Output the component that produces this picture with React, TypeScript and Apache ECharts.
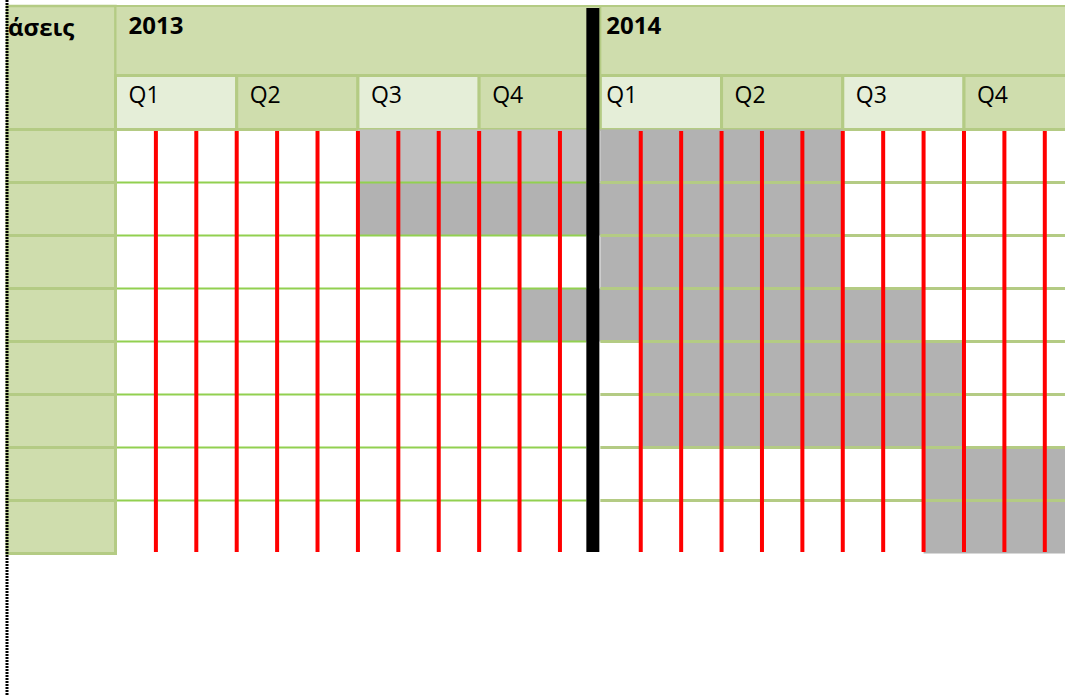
import React, { useEffect, useRef } from "react";
import * as echarts from "echarts";

// ---- data ----
const phaseTitle = "άσεις";
const years = ["2013", "2014"];
const yearStart = [0, 12];
const yearEnd = [12, 24];
const quarters = ["Q1", "Q2", "Q3", "Q4", "Q1", "Q2", "Q3", "Q4"];
const quarterStart = [0, 3, 6, 9, 12, 15, 18, 21];
const quarterEnd = [3, 6, 9, 12, 15, 18, 21, 24];
const phases = ["Φάση 1", "Φάση 2", "Φάση 3", "Φάση 4", "Φάση 5", "Φάση 6", "Φάση 7", "Φάση 8"];
const taskRow = [0, 0, 1, 2, 3, 4, 5, 6, 7];
const taskStart = [6, 12, 6, 12, 10, 13, 13, 20, 20];
const taskEnd = [12, 18, 18, 18, 20, 21, 21, 24, 24];
const taskShade = ["light", "dark", "dark", "dark", "dark", "dark", "dark", "dark", "dark"];
const monthMarks = [1, 2, 3, 4, 5, 6, 7, 8, 9, 10, 11, 13, 14, 15, 16, 17, 18, 19, 20, 21, 22, 23];
const visibleMonths = 23.5;

// ---- styles ----
const HEADER = "#cfddad";
const LIGHT = "#e5eed8";
const BORDER = "#b4cb84";
const ROWLINE = "#92d050";
const GRAY = { light: "#c0c0c0", dark: "#b2b2b2" };
const FONT = '"Open Sans", "Liberation Sans", sans-serif';
const GRID_LEFT = 115.5;

export default function App() {
  const ref = useRef<HTMLDivElement>(null);
  useEffect(() => {
    if (!ref.current) return;
    const chart = echarts.init(ref.current, undefined, { renderer: "svg" });
    const dividerAt = yearStart[1];
    const textOffset = (s: number) => (yearStart.indexOf(s) > 0 ? 7 : 14);

    const option: any = {
      animation: false,
      backgroundColor: "#ffffff",
      grid: [
        { left: GRID_LEFT, right: 0, top: 6, height: 69.5 },
        { left: GRID_LEFT, right: 0, top: 75.5, height: 54 },
        { left: GRID_LEFT, right: 0, top: 129.5, height: 424 },
      ],
      xAxis: [0, 1, 2].map((i) => ({ type: "value", gridIndex: i, min: 0, max: visibleMonths, show: false })),
      yAxis: [
        { type: "category", gridIndex: 0, data: ["year"], show: false },
        { type: "category", gridIndex: 1, data: ["quarter"], show: false },
        { type: "category", gridIndex: 2, data: phases, inverse: true, show: false },
      ],
      graphic: [
        {
          type: "rect",
          shape: { x: 7, y: 6, width: GRID_LEFT - 7, height: 123.5 },
          style: { fill: HEADER, stroke: BORDER, lineWidth: 2.5 },
          z: 1,
        },
        {
          type: "text",
          x: 8,
          y: 26.5,
          style: { text: phaseTitle, font: `bold 24px ${FONT}`, fill: "#000", verticalAlign: "middle" },
          z: 2,
        },
        {
          type: "line",
          shape: { x1: 7, y1: 0, x2: 7, y2: 696 },
          style: { stroke: "#000", lineWidth: 3, lineDash: [2, 1] },
          z: 100,
        },
      ],
      series: [
        {
          type: "custom",
          name: "years",
          xAxisIndex: 0,
          yAxisIndex: 0,
          data: years.map((_, i) => [yearStart[i], yearEnd[i], 0]),
          encode: { x: [0, 1], y: 2 },
          renderItem: (params: any, api: any) => {
            const cs = params.coordSys;
            const s = api.value(0);
            const e = api.value(1);
            const x0 = api.coord([s, 0])[0];
            const x1 = api.coord([e, 0])[0];
            return {
              type: "group",
              children: [
                {
                  type: "rect",
                  shape: { x: x0, y: cs.y, width: x1 - x0, height: cs.height },
                  style: { fill: HEADER, stroke: BORDER, lineWidth: 2 },
                },
                {
                  type: "text",
                  style: {
                    text: years[params.dataIndex],
                    x: x0 + textOffset(s) - 1,
                    y: cs.y + 18.2,
                    font: `bold 24px ${FONT}`,
                    fill: "#000",
                    verticalAlign: "middle",
                  },
                },
              ],
            };
          },
        },
        {
          type: "custom",
          name: "quarters",
          xAxisIndex: 1,
          yAxisIndex: 1,
          data: quarters.map((_, i) => [quarterStart[i], quarterEnd[i], 0]),
          encode: { x: [0, 1], y: 2 },
          renderItem: (params: any, api: any) => {
            const cs = params.coordSys;
            const s = api.value(0);
            const e = api.value(1);
            const x0 = api.coord([s, 0])[0];
            const x1 = api.coord([e, 0])[0];
            return {
              type: "group",
              children: [
                {
                  type: "rect",
                  shape: { x: x0, y: cs.y, width: x1 - x0, height: cs.height },
                  style: { fill: params.dataIndex % 2 === 0 ? LIGHT : HEADER, stroke: BORDER, lineWidth: 3 },
                },
                {
                  type: "text",
                  style: {
                    text: quarters[params.dataIndex],
                    x: x0 + textOffset(s) - 1,
                    y: cs.y + 18,
                    font: `23px ${FONT}`,
                    fill: "#000",
                    verticalAlign: "middle",
                  },
                },
              ],
            };
          },
        },
        {
          type: "custom",
          name: "phaseCells",
          xAxisIndex: 2,
          yAxisIndex: 2,
          data: phases.map((_, i) => [0, i]),
          encode: { x: 0, y: 1 },
          renderItem: (params: any, api: any) => {
            const cs = params.coordSys;
            const p = api.coord([0, api.value(1)]);
            const h = api.size([0, 1])[1];
            return {
              type: "rect",
              shape: { x: 7, y: p[1] - h / 2, width: cs.x - 7, height: h },
              style: { fill: HEADER, stroke: BORDER, lineWidth: 3 },
            };
          },
        },
        {
          type: "custom",
          name: "tasks",
          xAxisIndex: 2,
          yAxisIndex: 2,
          data: taskRow.map((r, i) => [taskStart[i], taskEnd[i], r]),
          encode: { x: [0, 1], y: 2 },
          renderItem: (params: any, api: any) => {
            const cs = params.coordSys;
            const p0 = api.coord([api.value(0), api.value(2)]);
            const p1 = api.coord([api.value(1), api.value(2)]);
            const h = api.size([0, 1])[1];
            const x1 = Math.min(p1[0], cs.x + cs.width);
            return {
              type: "rect",
              shape: { x: p0[0], y: p0[1] - h / 2, width: x1 - p0[0], height: h },
              style: { fill: (GRAY as any)[taskShade[params.dataIndex]] },
            };
          },
        },
        {
          type: "custom",
          name: "rowLines",
          xAxisIndex: 2,
          yAxisIndex: 2,
          data: phases.slice(1).map((_, i) => [0, i + 1]),
          encode: { x: 0, y: 1 },
          renderItem: (params: any, api: any) => {
            const cs = params.coordSys;
            const h = api.size([0, 1])[1];
            const y = cs.y + api.value(1) * h;
            const xd = api.coord([dividerAt, 0])[0];
            return {
              type: "group",
              children: [
                {
                  type: "line",
                  shape: { x1: cs.x + 1.5, y1: y, x2: xd - 14, y2: y },
                  style: { stroke: ROWLINE, lineWidth: 2 },
                },
                {
                  type: "line",
                  shape: { x1: xd, y1: y, x2: cs.x + cs.width, y2: y },
                  style: { stroke: BORDER, lineWidth: 3 },
                },
              ],
            };
          },
        },
        {
          type: "custom",
          name: "months",
          xAxisIndex: 2,
          yAxisIndex: 2,
          data: monthMarks.map((m) => [m, 0]),
          encode: { x: 0, y: 1 },
          renderItem: (params: any, api: any) => {
            const cs = params.coordSys;
            const x = api.coord([api.value(0), 0])[0];
            return {
              type: "line",
              shape: { x1: x, y1: cs.y + 1.5, x2: x, y2: cs.y + cs.height - 1.5 },
              style: { stroke: "#ff0000", lineWidth: 4 },
            };
          },
        },
        {
          type: "custom",
          name: "yearDivider",
          xAxisIndex: 2,
          yAxisIndex: 2,
          data: [[dividerAt, 0]],
          encode: { x: 0, y: 1 },
          renderItem: (params: any, api: any) => {
            const cs = params.coordSys;
            const x = api.coord([api.value(0), 0])[0];
            return {
              type: "rect",
              shape: { x: x - 14, y: 8, width: 13, height: cs.y + cs.height - 1.5 - 8 },
              style: { fill: "#000000" },
            };
          },
        },
      ],
    };
    chart.setOption(option);
    return () => chart.dispose();
  }, []);
  return (
    <div
      ref={ref}
      style={{ position: "fixed", left: 0, top: 0, width: 1065, height: 696, background: "#fff" }}
    />
  );
}
